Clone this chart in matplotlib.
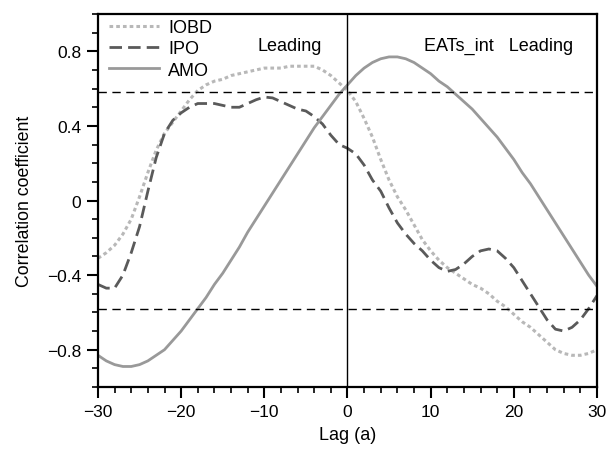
import matplotlib
matplotlib.use("Agg")
import matplotlib.pyplot as plt
import numpy as np
from matplotlib.ticker import MultipleLocator

plt.rcParams['font.family'] = ['Liberation Sans', 'DejaVu Sans']

lags = list(range(-30, 31))

iobd = [-0.31, -0.28, -0.24, -0.18, -0.10, 0.02, 0.15, 0.27, 0.36, 0.42,
        0.48, 0.54, 0.59, 0.62, 0.64, 0.65, 0.67, 0.68, 0.69, 0.70,
        0.71, 0.71, 0.71, 0.72, 0.72, 0.72, 0.72, 0.70, 0.67, 0.63,
        0.59, 0.53, 0.44, 0.34, 0.22, 0.11, 0.02, -0.05, -0.13, -0.21,
        -0.27, -0.32, -0.36, -0.39, -0.42, -0.45, -0.47, -0.50, -0.54, -0.57,
        -0.61, -0.65, -0.68, -0.72, -0.76, -0.80, -0.82, -0.83, -0.83, -0.82,
        -0.80]

ipo = [-0.45, -0.47, -0.47, -0.40, -0.28, -0.14, 0.05, 0.23, 0.36, 0.43,
       0.47, 0.50, 0.52, 0.52, 0.52, 0.51, 0.50, 0.50, 0.52, 0.54,
       0.555, 0.55, 0.53, 0.51, 0.49, 0.48, 0.45, 0.41, 0.35, 0.30,
       0.28, 0.25, 0.19, 0.11, 0.05, -0.04, -0.12, -0.18, -0.23, -0.27,
       -0.32, -0.36, -0.38, -0.37, -0.34, -0.30, -0.27, -0.26, -0.27, -0.31,
       -0.36, -0.43, -0.50, -0.57, -0.64, -0.69, -0.70, -0.68, -0.64, -0.58,
       -0.51]

amo = [-0.83, -0.86, -0.88, -0.89, -0.89, -0.88, -0.86, -0.83, -0.80, -0.75,
       -0.70, -0.64, -0.58, -0.52, -0.45, -0.39, -0.32, -0.25, -0.17, -0.10,
       -0.03, 0.04, 0.11, 0.18, 0.25, 0.32, 0.39, 0.45, 0.51, 0.57,
       0.62, 0.67, 0.71, 0.74, 0.76, 0.77, 0.77, 0.76, 0.74, 0.71,
       0.68, 0.64, 0.61, 0.57, 0.53, 0.49, 0.44, 0.39, 0.34, 0.28,
       0.22, 0.15, 0.09, 0.02, -0.05, -0.12, -0.19, -0.26, -0.33, -0.40,
       -0.46]

sig_level = 0.58
x_ticks = [-30, -20, -10, 0, 10, 20, 30]
y_ticks = [-0.8, -0.4, 0, 0.4, 0.8]
y_tick_labels = ['\u22120.8', '\u22120.4', '0', '0.4', '0.8']
x_tick_labels = ['\u221230', '\u221220', '\u221210', '0', '10', '20', '30']

fig = plt.figure(figsize=(6.07, 4.52), dpi=100)
ax = fig.add_axes([0.1614, 0.1416, 0.8221, 0.8252])

ax.plot(lags, iobd, color='#b8b8b8', lw=2.2, linestyle=(0, (1.2, 1.0)), label='IOBD')
ax.plot(lags, ipo, color='#5a5a5a', lw=2.0, linestyle=(0, (4.5, 2.2)), label='IPO')
ax.plot(lags, amo, color='#999999', lw=2.0, linestyle='-', label='AMO')

ax.axhline(sig_level, color='black', lw=1.0, linestyle=(0, (6, 4)))
ax.axhline(-sig_level, color='black', lw=1.0, linestyle=(0, (6, 4)))
ax.axvline(0, color='black', lw=1.0)

ax.set_xlim(-30, 30)
ax.set_ylim(-1, 1)
ax.set_xticks(x_ticks)
ax.set_xticklabels(x_tick_labels)
ax.set_yticks(y_ticks)
ax.set_yticklabels(y_tick_labels)
ax.xaxis.set_minor_locator(MultipleLocator(2))
ax.yaxis.set_minor_locator(MultipleLocator(0.1))
ax.tick_params(which='major', direction='out', length=8, width=1.5, labelsize=12.5, pad=4)
ax.tick_params(which='minor', direction='out', length=4, width=1.2)
ax.tick_params(top=False, right=False)
for s in ax.spines.values():
    s.set_linewidth(1.6)

ax.set_xlabel('Lag (a)', fontsize=13, labelpad=5)
ax.set_ylabel('Correlation coefficient', fontsize=12.8, labelpad=10)

ax.text(-7.0, 0.806, 'Leading', fontsize=13, ha='center', va='baseline')
ax.text(18.2, 0.806, 'EATs_int   Leading', fontsize=13, ha='center', va='baseline')

leg = ax.legend(loc='upper left', frameon=False, fontsize=13, handlelength=2.8,
                handletextpad=0.5, labelspacing=0.24, borderaxespad=0.2,
                bbox_to_anchor=(0.0, 1.016))

fig.savefig('out.png', dpi=100)
